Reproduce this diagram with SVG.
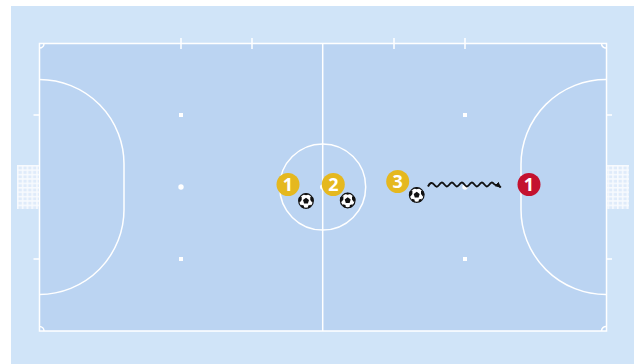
<svg xmlns="http://www.w3.org/2000/svg" width="636" height="364" viewBox="0 0 636 364">
<style>
.l{fill:none;stroke:#fff;stroke-width:1.500}
.d{fill:#fff}
.t{font-family:"Open Sans","Noto Sans",sans-serif;font-size:18px;font-weight:700;fill:#fff;text-anchor:middle}
</style>
<defs>
<pattern id="net" width="4.800" height="4.400" patternUnits="userSpaceOnUse" x="17" y="165"><path d="M0 .8H4.800M.8 0V4.400" stroke="#fff" stroke-width="1.500" opacity=".75" fill="none"/></pattern>
<symbol id="ball" viewBox="0 0 16 16" overflow="visible">
<circle cx="8" cy="8" r="7.300" fill="#fff" stroke="#111" stroke-width="1.200"/>
<path d="M8 4.800 11 7 9.900 10.500H6.100L5 7Z M5 1.200 8 2.300 11 1.200 8 .3Z M.8 4.500 3.700 3.800 3.700 7 1.800 9.500.3 7.500Z M15.200 4.500 12.300 3.800 12.300 7 14.200 9.500 15.700 7.500Z M3 11.800 5.800 12.500 6.200 15.500 3.500 14.500Z M13 11.800 10.200 12.500 9.800 15.500 12.500 14.500Z" fill="#111"/>
</symbol>
<marker id="ah" viewBox="0 0 6 6" refX="5.500" refY="3" markerWidth="6" markerHeight="6" orient="40" markerUnits="userSpaceOnUse"><path d="M0 0 6 3 0 6Z" fill="#111"/></marker>
</defs>
<rect x="11" y="6" width="623" height="358" fill="#d0e4f8"/>
<rect x="39" y="43" width="567" height="288" fill="#bbd4f2"/>
<g id="pitch">
<rect class="l" x="39.500" y="43.500" width="567" height="287.500"/>
<path class="l" d="M322.700 43.500V331"/>
<circle class="l" cx="322.700" cy="187" r="43"/>
<path class="l" d="M39.500 79.500A85 85 0 0 1 124 165V209A85 85 0 0 1 39.500 294.500"/>
<path class="l" d="M606.500 79.500A85 85 0 0 0 521 165V209A85 85 0 0 0 606.500 294.500"/>
<path class="l" d="M39.500 48A4.500 4.500 0 0 0 44 43.500M601.500 43.500A4.500 4.500 0 0 0 606.500 48M39.500 326.500A4.500 4.500 0 0 1 44 331M601.500 331A4.500 4.500 0 0 1 606.500 326.500"/>
<path class="l" d="M181 38V49M252 38V49M394 38V49M465 38V49M33.500 115H39M33.500 259H39M606 115H612M606 259H612"/>
<rect class="d" x="179" y="113" width="4" height="4"/><rect class="d" x="179" y="257" width="4" height="4"/>
<rect class="d" x="463" y="113" width="4" height="4"/><rect class="d" x="463" y="257" width="4" height="4"/>
<circle class="d" cx="181" cy="187" r="2.700"/><circle class="d" cx="465" cy="187" r="2.700"/><circle class="d" cx="322.700" cy="187" r="2.700"/>
</g>
<g id="goal-left"><rect x="17" y="165" width="22" height="44" fill="#dfebfa"/><rect x="17" y="165" width="22" height="44" fill="url(#net)"/></g>
<g id="goal-right"><rect x="607" y="165" width="22" height="44" fill="#dfebfa"/><rect x="607" y="165" width="22" height="44" fill="url(#net)"/></g>
<g id="connectors"><path d="M428 186.500C430 182.500 432 182 434 184.500S437 187.500 439 185 442 181.500 444 184 447 187.500 449 185 452 181.500 454 184 457 187.500 459 185 462 181.500 464 184 467 187.500 469 185 472 181.500 474 184 477 187.500 479 185 482 181.500 484 184 487 187.500 489 185 492 181.500 494 184 498 183 500.700 187.500" fill="none" stroke="#111" stroke-width="2" marker-end="url(#ah)"/></g>
<g id="ball-1"><use href="#ball" x="298" y="193" width="16" height="16"/></g>
<g id="ball-2"><use href="#ball" x="339.700" y="192.500" width="16" height="16"/></g>
<g id="ball-3"><use href="#ball" x="408.700" y="187" width="16" height="16"/></g>
<g id="player-1"><circle cx="288" cy="184.500" r="11.500" fill="#e5b81f"/><text class="t" x="288" y="191">1</text></g>
<g id="player-2"><circle cx="333.300" cy="184.500" r="11.500" fill="#e5b81f"/><text class="t" x="333.300" y="191">2</text></g>
<g id="player-3"><circle cx="397.700" cy="181.500" r="11.500" fill="#e5b81f"/><text class="t" x="397.700" y="188">3</text></g>
<g id="player-red-1"><circle cx="529" cy="184.500" r="11.500" fill="#c4122f"/><text class="t" x="529" y="191">1</text></g>
</svg>
